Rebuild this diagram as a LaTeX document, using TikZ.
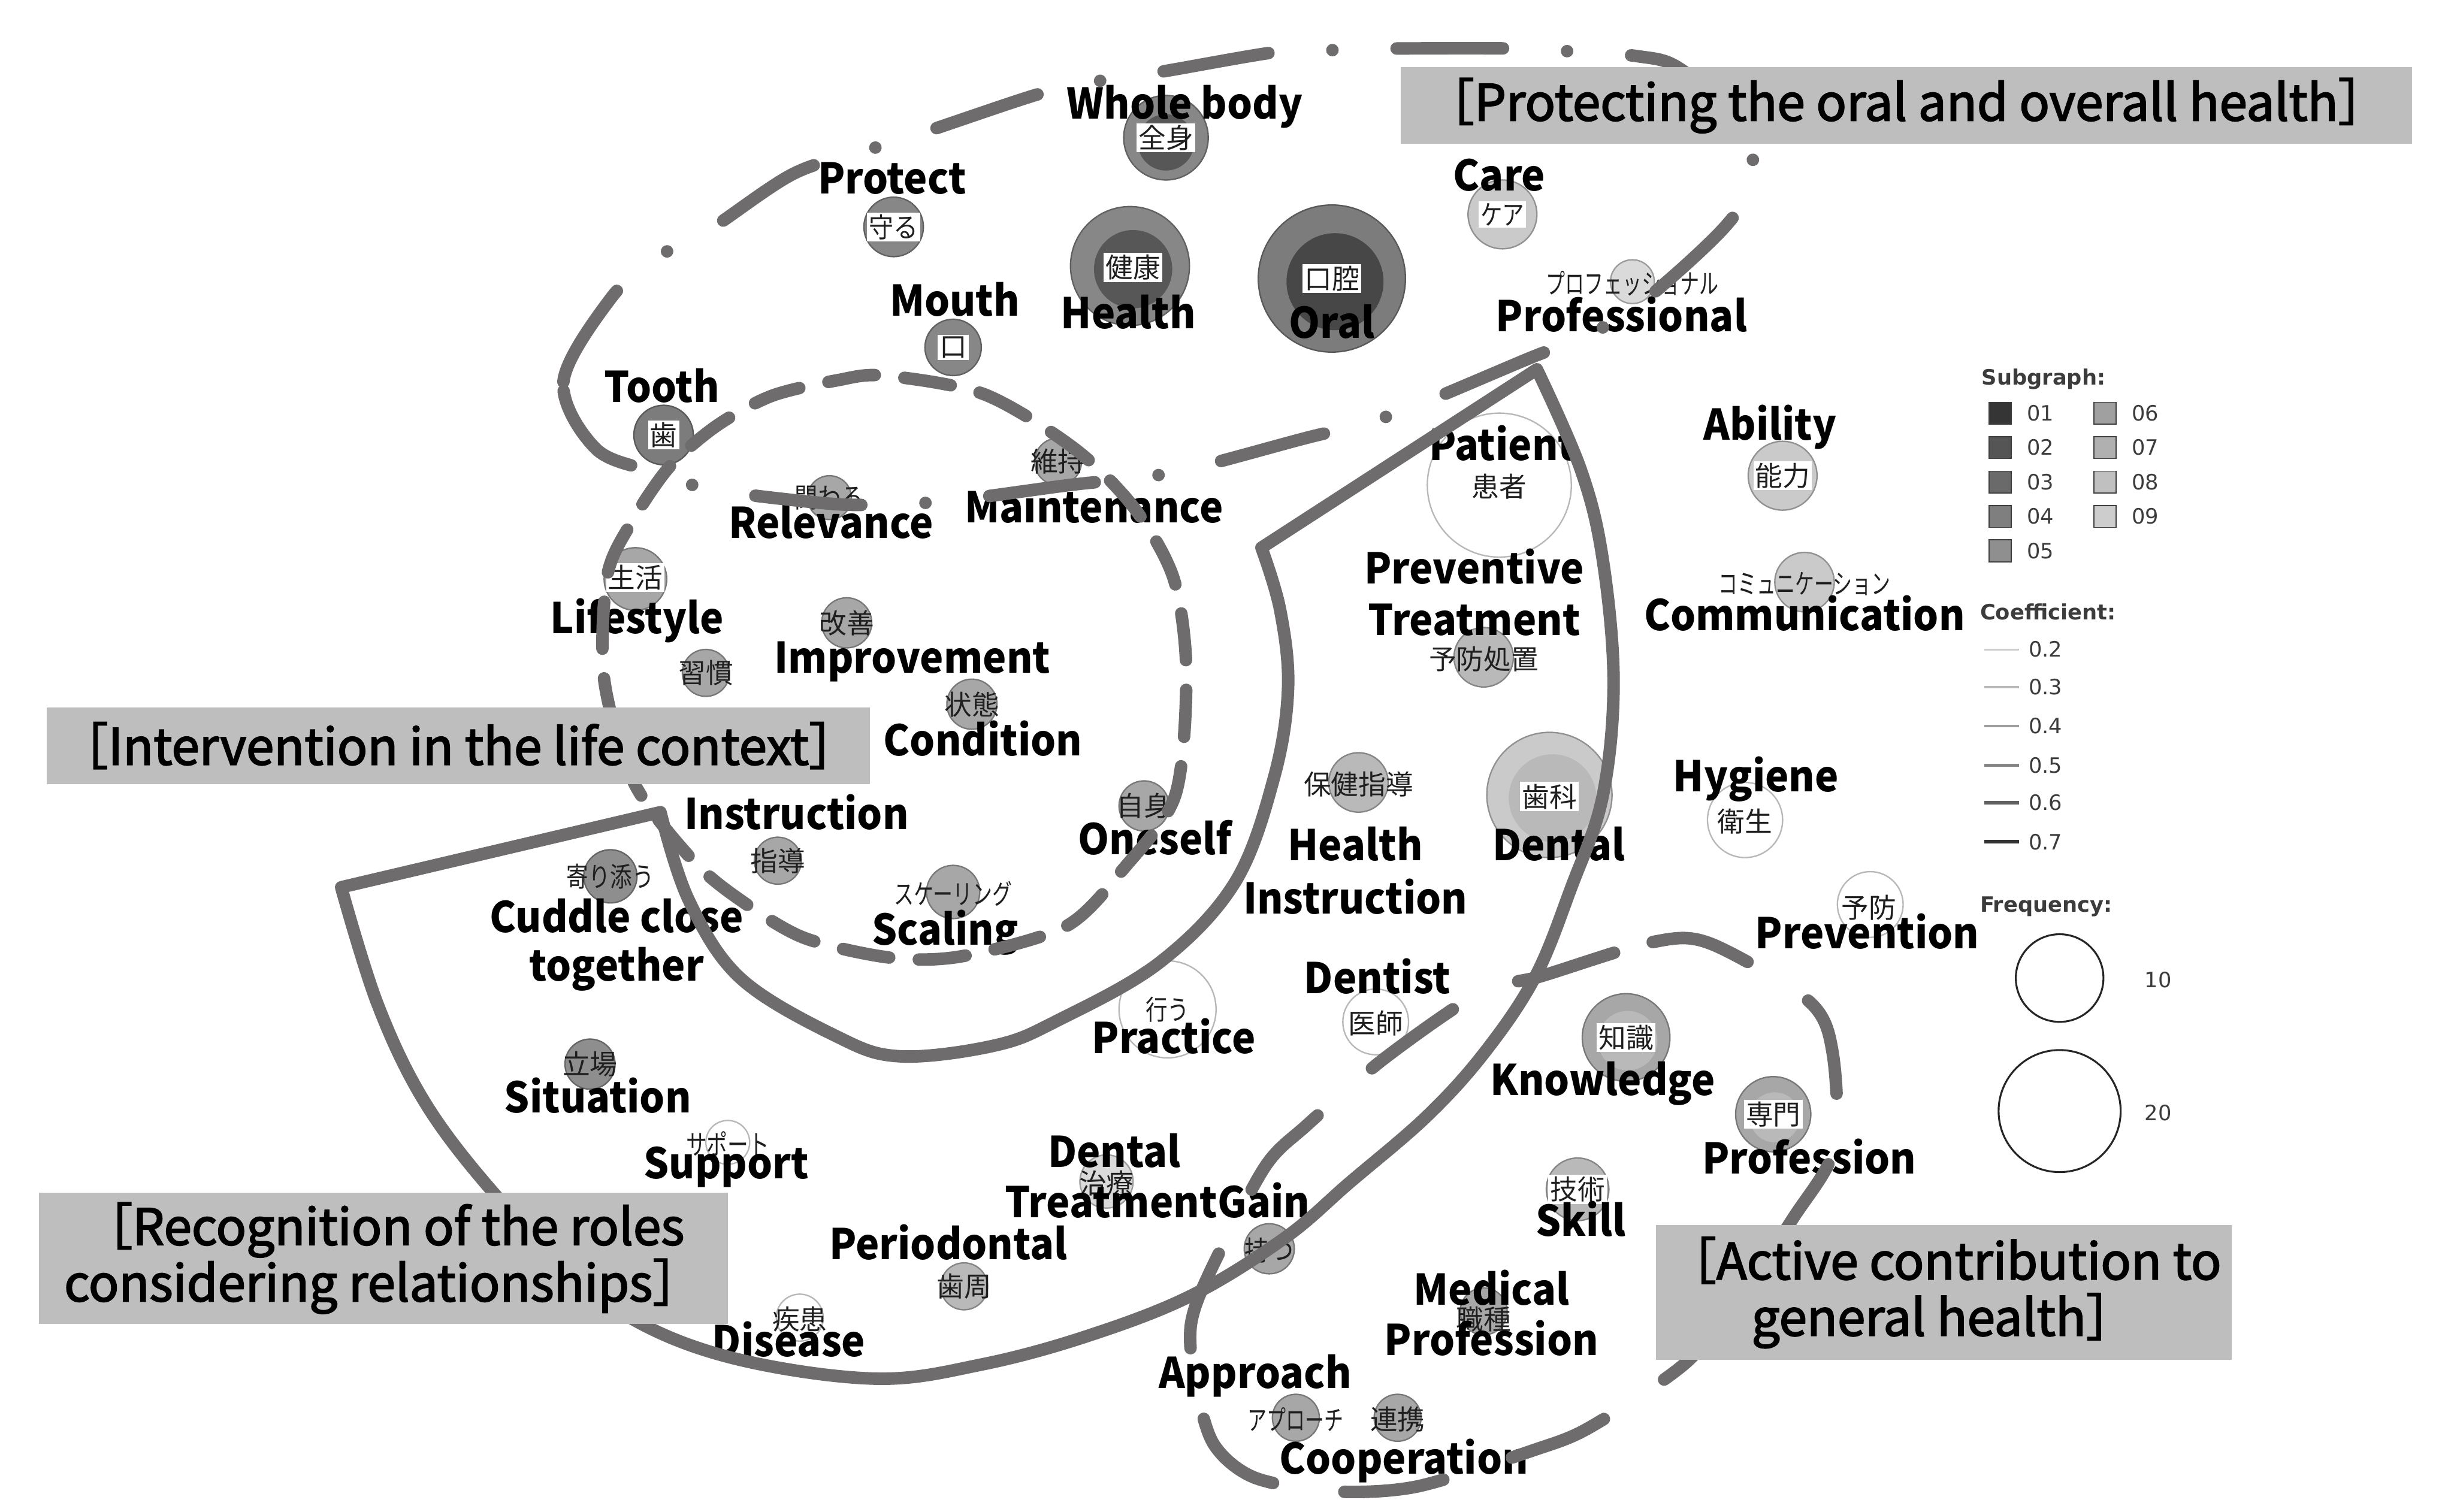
\documentclass[tikz,border=0pt]{standalone}
\usepackage{fontspec}
\usepackage{graphicx}
\setmainfont{Noto Sans CJK JP}
\newfontfamily\jpfont{Noto Sans CJK JP}
\newfontfamily\enfont{Noto Sans CJK JP}[FakeStretch=0.94]
\newfontfamily\boxfont{Noto Sans CJK JP}[FakeBold=2.5]
\newfontfamily\legfont{DejaVu Sans}
\pgfdeclarelayer{bg}
\pgfsetlayers{bg,main}
\definecolor{ovc}{HTML}{6E6C6C}
\definecolor{boxc}{HTML}{BEBEBE}
\definecolor{nK}{HTML}{474747}
\definecolor{nD}{HTML}{575757}
\definecolor{nO}{HTML}{7C7C7C}
\definecolor{nA}{HTML}{878787}
\definecolor{nM}{HTML}{8E8E8E}
\definecolor{nB}{HTML}{A7A7A7}
\definecolor{nC}{HTML}{B9B9B9}
\definecolor{nL}{HTML}{CACACA}
\definecolor{nP}{HTML}{DADADA}
\definecolor{legc}{HTML}{3C3C3C}
\definecolor{s1}{HTML}{353535}
\definecolor{s2}{HTML}{555555}
\definecolor{s3}{HTML}{6A6A6A}
\definecolor{s4}{HTML}{7F7F7F}
\definecolor{s5}{HTML}{8F8F8F}
\definecolor{s6}{HTML}{A0A0A0}
\definecolor{s7}{HTML}{B0B0B0}
\definecolor{s8}{HTML}{C0C0C0}
\definecolor{s9}{HTML}{CDCDCD}
\newcommand{\nar}[2]{\scalebox{#1}[1]{#2}}
\begin{document}
\begin{tikzpicture}[x=1pt,y=-1pt,
  kw/.style={circle, inner sep=0pt, fill=#1, draw=#1!72!black, line width=0.9pt},
  jp/.style={font=\jpfont\fontsize{17.5}{17.5}\selectfont, inner sep=1.2pt, text=black!88},
  jpb/.style={jp, fill=white},
  en/.style={font=\enfont\bfseries\fontsize{27}{27}\selectfont, anchor=base, inner sep=0pt},
  e2/.style={draw=black!20, line width=1.2pt},
  e3/.style={draw=black!28, line width=1.4pt},
  e4/.style={draw=black!38, line width=1.6pt},
  e5/.style={draw=black!48, line width=1.9pt},
  e6/.style={draw=black!62, line width=2.1pt},
  e7/.style={draw=black!80, line width=2.3pt},
  ed/.style={draw=black!18, line width=1.8pt, dash pattern=on 1.5pt off 2pt},
  ovl/.style={draw=ovc, line width=8pt, line cap=round, line join=round},
  gbox/.style={fill=boxc, inner sep=0pt, align=center, font=\boxfont\fontsize{32}{36}\selectfont},
  leg/.style={font=\legfont\fontsize{13.5}{14}\selectfont, text=legc, inner sep=0pt},
  legb/.style={font=\legfont\bfseries\fontsize{13.5}{14}\selectfont, text=legc, inner sep=0pt, anchor=base west},
  sq/.style={draw=black!75, line width=0.6pt, minimum size=14pt, inner sep=0pt}
]
\fill[white] (0,0) rectangle (1568,966);
\useasboundingbox (0,0) rectangle (1568,966);

% ---------------- nodes ----------------
\node[kw=nA, minimum size=54pt] (zenshin) at (745,88) {};
\node[kw=nD, draw=none, minimum size=36pt] (zenshin-in) at (745,91) {};
\node[kw=nA, minimum size=38pt] (mamoru) at (571,145) {};
\node[kw=nA, minimum size=76pt] (kenko) at (722,170) {};
\node[kw=nD, draw=none, minimum size=50pt] (kenko-in) at (724,172) {};
\node[kw=nO, minimum size=94pt] (koku) at (851,178) {};
\node[kw=nK, draw=none, minimum size=62pt] (koku-in) at (853,180) {};
\node[kw=nA, minimum size=36pt] (kuchi) at (609,222) {};
\node[kw=nO, minimum size=38pt] (ha) at (424,278) {};
\node[kw=nL, minimum size=44pt] (kea) at (960,137) {};
\node[kw=nP, minimum size=28pt] (prof) at (1043,180) {};
\node[kw=white, minimum size=92pt] (kanja) at (958,310) {};
\node[kw=nC, minimum size=38pt] (yobosho) at (948,420) {};
\node[kw=nC, minimum size=38pt] (hokenshido) at (868,500) {};
\node[kw=nL, minimum size=80pt] (shika) at (990,508) {};
\node[kw=nC, draw=none, minimum size=56pt] (shika-in) at (992,510) {};
\node[kw=nL, minimum size=44pt] (noryoku) at (1139,304) {};
\node[kw=nL, minimum size=38pt] (komyu) at (1153,372) {};
\node[kw=white, minimum size=48pt] (eisei) at (1115,524) {};
\node[kw=white, minimum size=42pt] (yobo) at (1195,578) {};
\node[kw=nB, minimum size=30pt] (iji) at (676,295) {};
\node[kw=nB, minimum size=28pt] (kakawaru) at (530,318) {};
\node[kw=nB, minimum size=40pt] (seikatsu) at (406,370) {};
\node[kw=nB, minimum size=32pt] (kaizen) at (541,398) {};
\node[kw=nB, minimum size=30pt] (shukan) at (451,430) {};
\node[kw=nB, minimum size=32pt] (jotai) at (621,450) {};
\node[kw=nB, minimum size=32pt] (jishin) at (731,515) {};
\node[kw=nB, minimum size=30pt] (shido) at (497,550) {};
\node[kw=nB, minimum size=34pt] (scaling) at (609,570) {};
\node[kw=nM, minimum size=34pt] (yorisou) at (390,560) {};
\node[kw=nM, minimum size=32pt] (tachiba) at (377,680) {};
\node[kw=white, minimum size=28pt] (support) at (465,730) {};
\node[kw=white, minimum size=30pt] (shikkan) at (511,842) {};
\node[kw=nC, minimum size=30pt] (shishu) at (616,822) {};
\node[kw=nP, minimum size=34pt] (chiryo) at (707,755) {};
\node[kw=white, minimum size=62pt] (okonau) at (746,645) {};
\node[kw=white, minimum size=42pt] (ishi) at (879,653) {};
\node[kw=nB, minimum size=32pt] (motsu) at (811,798) {};
\node[kw=nB, minimum size=56pt] (chishiki) at (1039,663) {};
\node[kw=nC, draw=none, minimum size=38pt] (chishiki-in) at (1040,665) {};
\node[kw=nB, minimum size=48pt] (senmon) at (1133,712) {};
\node[kw=nC, draw=none, minimum size=32pt] (senmon-in) at (1134,714) {};
\node[kw=nC, minimum size=40pt] (gijutsu) at (1008,760) {};
\node[kw=nB, minimum size=30pt] (shokushu) at (948,838) {};
\node[kw=nB, minimum size=30pt] (approach) at (828,906) {};
\node[kw=nB, minimum size=30pt] (renkei) at (893,906) {};

% ---------------- edges ----------------
\begin{pgfonlayer}{bg}
\draw[ed] (koku) -- (kea);
\draw[ed] (koku) -- (kanja);
\draw[ed] (kenko) -- (iji);
\draw[ed] (kuchi) -- (kakawaru);
\draw[ed] (kuchi) -- (iji);
\draw[ed] (ha) -- (seikatsu);
\draw[ed] (seikatsu) -- (yorisou);
\draw[ed] (jishin) -- (hokenshido);
\draw[ed] (kanja) -- (yobosho);
\draw[ed] (shika) -- (eisei);
\draw[ed] (eisei) -- (chishiki);
\draw[ed] (yobo) -- (senmon);
\draw[ed] (shika) -- (chishiki);
\draw[ed] (shika) -- (ishi);
\draw[ed] (hokenshido) -- (okonau);
\draw[ed] (jishin) -- (okonau);
\draw[ed] (scaling) -- (okonau);
\draw[ed] (okonau) -- (chiryo);
\draw[ed] (okonau) -- (motsu);
\draw[ed] (okonau) -- (ishi);
\draw[ed] (ishi) -- (motsu);
\draw[ed] (motsu) -- (gijutsu);
\draw[ed] (shishu) -- (motsu);
\draw[ed] (shishu) -- (shikkan);
\draw[ed] (shikkan) -- (support);
\draw[ed] (support) -- (yorisou);
\draw[ed] (support) -- (shishu);
\draw[ed] (shokushu) -- (gijutsu);
\draw[e2] (mamoru) -- (zenshin);
\draw[e4] (mamoru) -- (kenko);
\draw[e3] (mamoru) -- (kuchi);
\draw[e2] (mamoru) -- (ha);
\draw[e4] (zenshin) -- (kenko);
\draw[e3] (zenshin) -- (koku);
\draw[e5] (kenko) -- (koku);
\draw[e3] (kenko) -- (kuchi);
\draw[e4] (kea) -- (prof);
\draw[e7] (noryoku) -- (komyu);
\draw[e5] (yobosho) -- (hokenshido);
\draw[e4] (yobosho) -- (shika);
\draw[e4] (hokenshido) -- (shika);
\draw[e3] (kakawaru) -- (iji);
\draw[e4] (kakawaru) -- (seikatsu);
\draw[e3] (kakawaru) -- (shukan);
\draw[e3] (kakawaru) -- (kaizen);
\draw[e2] (kakawaru) -- (scaling);
\draw[e2] (iji) -- (kaizen);
\draw[e4] (seikatsu) -- (kaizen);
\draw[e6] (seikatsu) -- (shukan);
\draw[e3] (shukan) -- (kaizen);
\draw[e3] (shukan) -- (jotai);
\draw[e3] (shukan) -- (shido);
\draw[e3] (kaizen) -- (shido);
\draw[e2] (jotai) -- (scaling);
\draw[e3] (jotai) -- (jishin);
\draw[e4] (shido) -- (scaling);
\draw[e2] (scaling) -- (jishin);
\draw[e3] (yorisou) -- (tachiba);
\draw[e3] (chishiki) -- (senmon);
\draw[e5] (chishiki) -- (gijutsu);
\draw[e3] (gijutsu) -- (senmon);
\draw[e2] (motsu) -- (approach);
\draw[e2] (motsu) -- (renkei);
\draw[e3] (approach) -- (shokushu);
\draw[e6] (renkei) -- (shokushu);
\draw[e3] (shishu) -- (chiryo);
\end{pgfonlayer}

% ---------------- Japanese labels ----------------
\node[jpb] (zenshin-t) at (745,88) {全身};
\node[jpb] (mamoru-t) at (571,145) {\nar{0.9}{守る}};
\node[jpb] (kenko-t) at (724,171) {健康};
\node[jpb] (koku-t) at (851,178) {口腔};
\node[jpb] (kuchi-t) at (609,222) {口};
\node[jpb] (ha-t) at (424,278) {歯};
\node[jpb] (kea-t) at (960,137) {\nar{0.8}{ケア}};
\node[jp] (prof-t) at (1043,181) {\nar{0.7}{プロフェッショナル}};
\node[jp] (kanja-t) at (958,311) {患者};
\node[jp] (yobosho-t) at (948,421) {予防処置};
\node[jp] (hokenshido-t) at (868,501) {保健指導};
\node[jpb] (shika-t) at (990,509) {歯科};
\node[jpb] (noryoku-t) at (1139,304) {能力};
\node[jp] (komyu-t) at (1153,373) {\nar{0.7}{コミュニケーション}};
\node[jp] (eisei-t) at (1115,525) {衛生};
\node[jp] (yobo-t) at (1194,580) {予防};
\node[jp] (iji-t) at (676,295) {維持};
\node[jp] (kakawaru-t) at (530,318) {\nar{0.84}{関わる}};
\node[jpb] (seikatsu-t) at (406,369) {生活};
\node[jp] (kaizen-t) at (541,398) {改善};
\node[jp] (shukan-t) at (451,430) {習慣};
\node[jp] (jotai-t) at (621,450) {状態};
\node[jp] (jishin-t) at (731,515) {自身};
\node[jp] (shido-t) at (497,550) {指導};
\node[jp] (scaling-t) at (609,571) {\nar{0.72}{スケーリング}};
\node[jp] (yorisou-t) at (390,560) {\nar{0.8}{寄り添う}};
\node[jp] (tachiba-t) at (377,680) {立場};
\node[jp] (support-t) at (465,731) {\nar{0.76}{サポート}};
\node[jp] (shikkan-t) at (511,843) {疾患};
\node[jp] (shishu-t) at (616,822) {歯周};
\node[jp] (chiryo-t) at (707,756) {治療};
\node[jp] (okonau-t) at (746,645) {\nar{0.8}{行う}};
\node[jp] (ishi-t) at (879,654) {医師};
\node[jp] (motsu-t) at (811,799) {\nar{0.9}{持つ}};
\node[jpb] (chishiki-t) at (1039,663) {知識};
\node[jpb] (senmon-t) at (1133,712) {専門};
\node[jpb] (gijutsu-t) at (1008,760) {技術};
\node[jp] (shokushu-t) at (948,843) {職種};
\node[jp] (approach-t) at (828,907) {\nar{0.7}{アプローチ}};
\node[jp] (renkei-t) at (893,907) {連携};

% ---------------- English labels ----------------
\node[en] (l-zenshin) at (757,76) {Whole body};
\node[en] (l-mamoru) at (570,124) {Protect};
\node[en] (l-kuchi) at (610,202) {Mouth};
\node[en] (l-kenko) at (721,210) {Health};
\node[en] (l-koku) at (851,216) {Oral};
\node[en] (l-kea) at (958,122) {Care};
\node[en] (l-prof) at (1036,212) {Professional};
\node[en] (l-ha) at (423,257) {Tooth};
\node[en] (l-noryoku) at (1131,281) {Ability};
\node[en] (l-kanja) at (960,294) {Patient};
\node[en] (l-kakawaru) at (531,344) {Relevance};
\node[en] (l-iji) at (699,334) {Maintenance};
\node[en] (l-yobosho1) at (942,373) {Preventive};
\node[en] (l-yobosho2) at (942,406) {Treatment};
\node[en] (l-seikatsu) at (407,405) {Lifestyle};
\node[en] (l-komyu) at (1153,403) {Communication};
\node[en] (l-kaizen) at (583,430) {Improvement};
\node[en] (l-jotai) at (628,483) {Condition};
\node[en] (l-eisei) at (1122,506) {Hygiene};
\node[en] (l-shido) at (509,530) {Instruction};
\node[en] (l-jishin) at (738,546) {Oneself};
\node[en] (l-hoken1) at (866,550) {Health};
\node[en] (l-hoken2) at (866,584) {Instruction};
\node[en] (l-shika) at (996,550) {Dental};
\node[en] (l-yorisou1) at (394,596) {Cuddle close};
\node[en] (l-yorisou2) at (394,627) {together};
\node[en] (l-scaling) at (604,604) {Scaling};
\node[en] (l-yobo) at (1193,606) {Prevention};
\node[en] (l-ishi) at (880,635) {Dentist};
\node[en] (l-okonau) at (750,673) {Practice};
\node[en] (l-chishiki) at (1024,700) {Knowledge};
\node[en] (l-tachiba) at (382,711) {Situation};
\node[en] (l-senmon) at (1156,750) {Profession};
\node[en] (l-support) at (464,753) {Support};
\node[en] (l-chiryo1) at (712,746) {Dental};
\node[en] (l-chiryo2) at (710,778) {Treatment};
\node[en, anchor=base west] (l-motsu) at (l-chiryo2.base east) {Gain};
\node[en] (l-gijutsu) at (1010,790) {Skill};
\node[en] (l-shishu) at (606,805) {Periodontal};
\node[en] (l-shokushu1) at (953,834) {Medical};
\node[en] (l-shokushu2) at (953,866) {Profession};
\node[en] (l-shikkan) at (504,867) {Disease};
\node[en] (l-approach) at (802,887) {Approach};
\node[en] (l-renkei) at (897,942) {Cooperation};

% ---------------- overlay outlines ----------------
\draw[ovl, dash pattern=on 68pt off 41pt on 0.01pt off 41pt]
  plot[smooth cycle, tension=0.55] coordinates {(381,287) (360,244) (390,191) (419,165) (453,147) (507,111) (554,96) (592,84) (664,60) (701,52) (741,46) (817,33) (854,32) (891,31) (969,31) (1006,33) (1047,36) (1072,43) (1105,72) (1121,110) (1103,144) (1047,195) (1012,215) (977,229) (908,258) (871,271) (834,280) (759,300) (721,306) (683,310) (608,320) (570,322) (532,322) (456,313) (420,302)};
\draw[ovl, dash pattern=on 30pt off 19pt]
  plot[smooth cycle] coordinates {(565,240) (629,252) (687,287) (725,325) (750,370) (758,430) (751,508) (718,555) (681,592) (615,611) (569,612) (513,599) (470,573) (441,548) (405,500) (386,434) (388,368) (404,333) (428,298) (458,272) (493,253) (535,243)};
\draw[ovl] (982,236) -- (806,350)
  -- plot[smooth, tension=0.6] coordinates {(806,350) (818,390) (823,440) (814,497) (789,564) (741,615) (676,652) (636,668) (575,675) (534,662) (473,625) (440,575) (422,519)}
  -- (218,567)
  -- plot[smooth, tension=0.6] coordinates {(218,567) (241,641) (270,702) (310,756) (360,808) (408,845) (473,869) (560,881) (627,872) (694,854) (761,828) (821,791) (862,756) (912,713) (949,672) (981,624) (1004,567) (1024,509) (1031,436) (1024,357) (1010,300) (982,236)}
  -- cycle;
\draw[ovl, dash pattern=on 64pt off 46pt]
  plot[smooth cycle] coordinates {(984,624) (1056,602) (1093,603) (1156,640) (1171,673) (1172,734) (1146,778) (1112,828) (1077,871) (1016,912) (979,927) (905,950) (850,953) (801,944) (775,922) (763,880) (761,846) (773,813) (808,746) (835,719) (885,676) (946,634)};

% ---------------- category boxes ----------------
\node[gbox, minimum width=646pt, minimum height=49pt] (boxA) at (1218,67.5) {［Protecting the oral and overall health］};
\node[gbox, minimum width=526pt, minimum height=49pt] (boxB) at (293,476.5) {［Intervention in the life context］};
\node[gbox, minimum width=440pt, minimum height=84pt] (boxC) at (245,804) {［Recognition of the roles\\considering relationships］};
\node[gbox, minimum width=368pt, minimum height=86pt] (boxD) at (1242,826) {［Active contribution to\\general health］};

% ---------------- legend ----------------
\node[legb] (leg-sub) at (1266,246) {Subgraph:};
\node[sq, fill=s1] (sq1) at (1278,264) {};
\node[sq, fill=s2] (sq2) at (1278,286) {};
\node[sq, fill=s3] (sq3) at (1278,308) {};
\node[sq, fill=s4] (sq4) at (1278,330) {};
\node[sq, fill=s5] (sq5) at (1278,352) {};
\node[sq, fill=s6] (sq6) at (1345,264) {};
\node[sq, fill=s7] (sq7) at (1345,286) {};
\node[sq, fill=s8] (sq8) at (1345,308) {};
\node[sq, fill=s9] (sq9) at (1345,330) {};
\node[leg, anchor=west] (sqt1) at (1295,264) {01};
\node[leg, anchor=west] (sqt2) at (1295,286) {02};
\node[leg, anchor=west] (sqt3) at (1295,308) {03};
\node[leg, anchor=west] (sqt4) at (1295,330) {04};
\node[leg, anchor=west] (sqt5) at (1295,352) {05};
\node[leg, anchor=west] (sqt6) at (1362,264) {06};
\node[leg, anchor=west] (sqt7) at (1362,286) {07};
\node[leg, anchor=west] (sqt8) at (1362,308) {08};
\node[leg, anchor=west] (sqt9) at (1362,330) {09};
\node[legb] (leg-coef) at (1265,396) {Coefficient:};
\draw[e2] (1268,415) -- (1290,415);
\draw[e3] (1268,439) -- (1290,439);
\draw[e4] (1268,464) -- (1290,464);
\draw[e5] (1268,489) -- (1290,489);
\draw[e6] (1268,513) -- (1290,513);
\draw[e7] (1268,538) -- (1290,538);
\node[leg, anchor=west] (ct2) at (1296,415) {0.2};
\node[leg, anchor=west] (ct3) at (1296,439) {0.3};
\node[leg, anchor=west] (ct4) at (1296,464) {0.4};
\node[leg, anchor=west] (ct5) at (1296,489) {0.5};
\node[leg, anchor=west] (ct6) at (1296,513) {0.6};
\node[leg, anchor=west] (ct7) at (1296,538) {0.7};
\node[legb] (leg-freq) at (1265,583) {Frequency:};
\node[circle, draw=black!85, line width=1.2pt, minimum size=56pt, inner sep=0pt] (f10) at (1316,625) {};
\node[circle, draw=black!85, line width=1.2pt, minimum size=78pt, inner sep=0pt] (f20) at (1316,710) {};
\node[leg] (ft10) at (1379,626) {10};
\node[leg] (ft20) at (1379,711) {20};
\end{tikzpicture}
\end{document}
